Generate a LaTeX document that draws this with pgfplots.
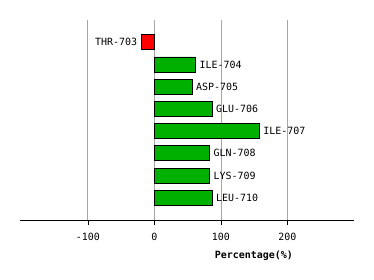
\documentclass[border=0pt]{standalone}
\usepackage{pgfplots}
\pgfplotsset{compat=1.18}
\usepackage{fontspec}
\setmainfont{DejaVu Sans Mono}
\definecolor{bargreen}{RGB}{0,176,0}
\pgfplotstableread{
p v lab
7 -20 THR-703
}\negdata
\pgfplotstableread{
p v lab
6 62 ILE-704
5 57 ASP-705
4 87 GLU-706
3 158 ILE-707
2 83 GLN-708
1 83 LYS-709
0 87 LEU-710
}\posdata
\begin{document}
\begin{tikzpicture}
\useasboundingbox (-20bp,-60bp) rectangle (354bp,220bp);
\begin{axis}[at={(0,0)}, anchor=south west, scale only axis,
  width=334bp, height=200bp,
  xmin=-202, xmax=300, ymin=-1, ymax=8,
  axis x line=bottom, axis y line=none,
  axis line style={-, black, line width=0.8pt},
  xtick={-100,0,100,200}, xticklabels={-100,0,100,200},
  tick align=outside, major tick length=5bp, xtick style={black, line width=0.6pt},
  xmajorgrids, grid style={gray!70, line width=0.8pt},
  ticklabel style={font=\fontsize{10}{12}\selectfont, yshift=-4.5bp},
  xlabel={\textbf{Percentage(\%)}},
  xlabel style={at={(axis description cs:0.70,0)}, anchor=north, yshift=-27.5bp, font=\fontsize{10}{12}\selectfont},
  xbar, bar width=15bp, bar shift=0pt,
  nodes near coords, point meta=explicit symbolic,
  every node near coord/.append style={font=\fontsize{10}{12}\selectfont, black, inner sep=3.5bp},
  clip=false]
\addplot[fill=red, draw=black, line width=0.8pt, nodes near coords style={anchor=east}] table[x=v, y=p, meta=lab] {\negdata};
\addplot[fill=bargreen, draw=black, line width=0.8pt, nodes near coords style={anchor=west}] table[x=v, y=p, meta=lab] {\posdata};
\end{axis}
\end{tikzpicture}
\end{document}
